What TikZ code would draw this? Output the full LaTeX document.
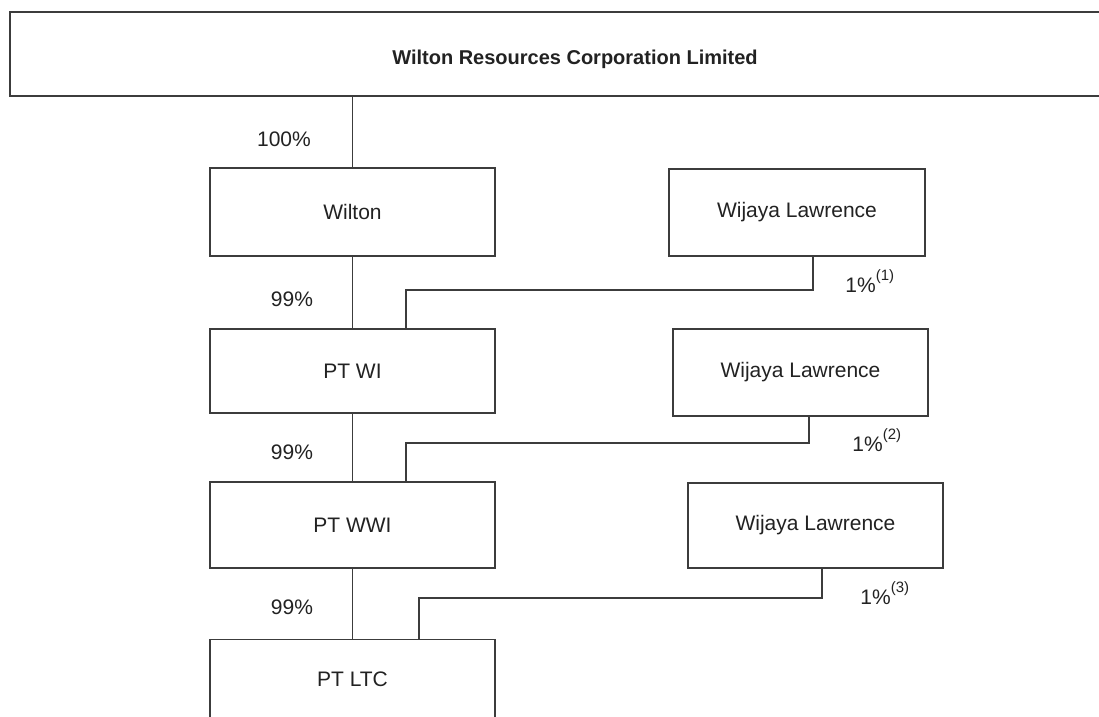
\documentclass[tikz,border=0pt]{standalone}
\usepackage{fontspec}
\setmainfont{Liberation Sans}
\definecolor{ln}{HTML}{3C3C3C}
\definecolor{tx}{HTML}{222222}
\newcommand{\supnote}[1]{\raisebox{0.6em}{\fontsize{7.5}{8}\selectfont(#1)}}
\begin{document}
\begin{tikzpicture}[x=0.5pt,y=-0.5pt,
  box/.style={draw=ln,line width=0.65pt,rectangle,inner sep=0pt,text=tx,font=\fontsize{10.5}{12}\selectfont},
  pct/.style={text=tx,inner sep=0pt,font=\fontsize{10.5}{12}\selectfont},
  conn/.style={draw=ln,line width=0.65pt}]
\clip (0,0) rectangle (1099,717);
\fill[white] (0,0) rectangle (1099,717);
% top box
\node[box,minimum width=565pt,minimum height=42pt] (top) at (575,54) {};
\node[pct,font=\bfseries\fontsize{10}{12}\selectfont] (title) at (575,59) {Wilton Resources Corporation Limited};
% left column
\node[box,minimum width=142.5pt,minimum height=44pt] (wilton) at (352.5,212) {Wilton};
\node[box,minimum width=142.5pt,minimum height=42pt] (ptwi) at (352.5,371) {PT WI};
\node[box,minimum width=142.5pt,minimum height=43pt] (ptwwi) at (352.5,525) {PT WWI};
\node[box,minimum width=142.5pt,minimum height=42pt,anchor=north] (ptltc) at (352.5,639) {\rule{0pt}{42pt}};
\node[pct] (ltctext) at (352.5,679) {PT LTC};
% right column
\node[box,minimum width=128pt,minimum height=43.5pt] (wl1) at (797,212.5) {Wijaya Lawrence};
\node[box,minimum width=127.5pt,minimum height=43.5pt] (wl2) at (800.5,372.5) {Wijaya Lawrence};
\node[box,minimum width=127.5pt,minimum height=42.5pt] (wl3) at (815.5,525.5) {Wijaya Lawrence};
% trunk
\draw[conn] (top.south -| wilton.north) -- (wilton.north);
\draw[conn] (wilton.south) -- (ptwi.north);
\draw[conn] (ptwi.south) -- (ptwwi.north);
\draw[conn] (ptwwi.south) -- (ptltc.north);
% side connectors
\coordinate (c1) at (813,290); \coordinate (k1) at (406,290);
\coordinate (c2) at (809,443); \coordinate (k2) at (406,443);
\coordinate (c3) at (822,598); \coordinate (k3) at (419,598);
\draw[conn] (c1 |- wl1.south) -- (c1) -- (k1) -- (k1 |- ptwi.north);
\draw[conn] (c2 |- wl2.south) -- (c2) -- (k2) -- (k2 |- ptwwi.north);
\draw[conn] (c3 |- wl3.south) -- (c3) -- (k3) -- (k3 |- ptltc.north);
% labels
\node[pct] (p100) at (284,139) {100\%};
\node[pct] (p99a) at (292,299) {99\%};
\node[pct] (p99b) at (292,452) {99\%};
\node[pct] (p99c) at (292,607) {99\%};
\node[pct,anchor=west] (o1) at (845,281) {1\%\supnote{1}};
\node[pct,anchor=west] (o2) at (852,440) {1\%\supnote{2}};
\node[pct,anchor=west] (o3) at (860,593) {1\%\supnote{3}};
\end{tikzpicture}
\end{document}
